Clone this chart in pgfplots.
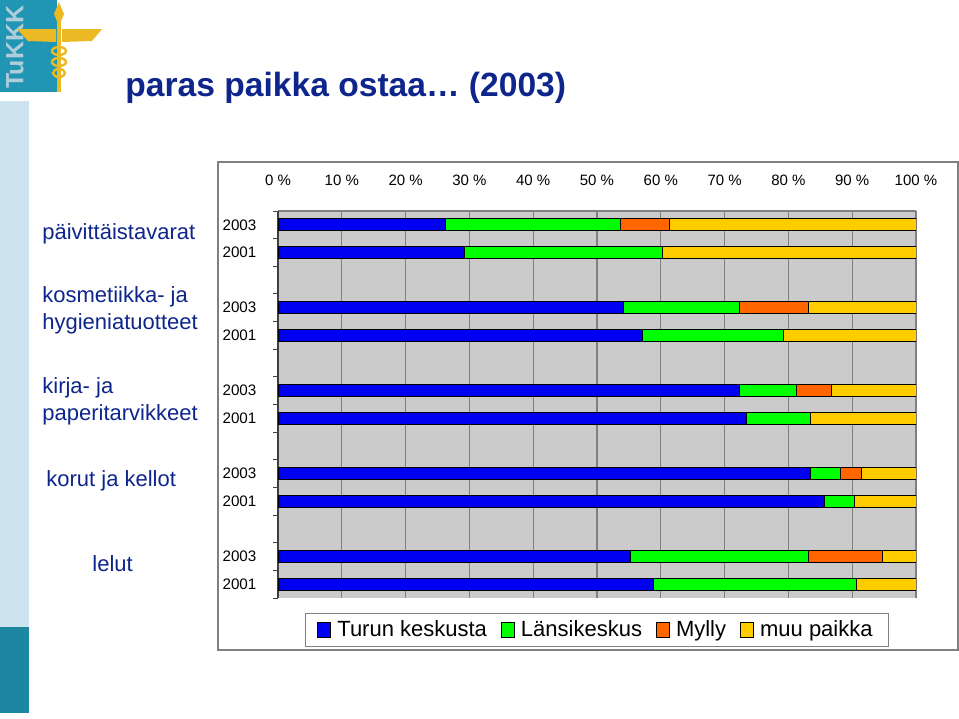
\documentclass[border=0pt]{standalone}
\usepackage{pgfplots}
\pgfplotsset{compat=1.18}
\usepackage{fontspec}
\setmainfont{Liberation Sans}

\definecolor{navy}{RGB}{14,38,140}
\definecolor{tukteal}{RGB}{32,150,180}
\definecolor{tuklight}{RGB}{205,227,238}
\definecolor{tukletter}{RGB}{175,205,218}
\definecolor{gold}{RGB}{235,185,35}
\definecolor{plotgray}{RGB}{203,203,203}
\definecolor{gridgray}{RGB}{128,128,128}
\definecolor{cblue}{RGB}{0,0,240}
\definecolor{cgreen}{RGB}{0,255,0}
\definecolor{corange}{RGB}{255,102,0}
\definecolor{cyellow}{RGB}{255,204,0}

\begin{document}
\begin{tikzpicture}
% page and decorations, in pixels of the reference (1px = 0.5pt)
\begin{scope}[x=0.5pt,y=-0.5pt]
  \useasboundingbox (0,0) rectangle (959,718);
  \fill[white] (0,0) rectangle (959,718);
  % logo
  \fill[tukteal] (0,0) rectangle (57,92);
  \node[rotate=90, text=tukletter, inner sep=0,
        font=\bfseries\fontsize{12.5}{12.5}\selectfont] at (15,47) {TuKKK};
  \fill[gold] (57,8) rectangle (61,92);
  \fill[gold] (59,2) -- (64,14) -- (59,26) -- (54,14) -- cycle;
  \fill[gold] (17,29) -- (56,29) -- (56,42) -- (28,41) -- cycle;
  \fill[gold] (62,29) -- (102,29) -- (92,41) -- (62,42) -- cycle;
  \draw[gold, line width=1.2pt] (59,51) ellipse (7 and 4);
  \draw[gold, line width=1.2pt] (59,62) ellipse (7 and 4);
  \draw[gold, line width=1.2pt] (59,73) ellipse (6 and 4);
  % left strip
  \fill[tuklight] (0,101) rectangle (29,627);
  \fill[tukteal!90!black] (0,627) rectangle (29,713);
  % title
  \node[anchor=base west, inner sep=0, text=navy,
        font=\bfseries\fontsize{16.8}{18}\selectfont] at (125,96)
        {paras paikka ostaa… (2003)};
  % chart frame
  \draw[gray, line width=0.6pt] (218,162) rectangle (958,650);
  % category labels
  \begin{scope}[every node/.style={anchor=base west, inner sep=0, text=navy,
      font=\fontsize{11}{13}\selectfont}]
    \node at (42,239) {päivittäistavarat};
    \node at (42,302) {kosmetiikka- ja};
    \node at (42,329) {hygieniatuotteet};
    \node at (42,393) {kirja- ja};
    \node at (42,420) {paperitarvikkeet};
    \node at (46,486) {korut ja kellot};
    \node at (92,571) {lelut};
  \end{scope}
\end{scope}

\begin{axis}[
    at={(139pt,-299pt)}, anchor=south west,
    scale only axis, width=319pt, height=193.5pt,
    xbar stacked, bar width=0.43,
    y dir=reverse,
    xmin=0, xmax=100, ymin=-0.5, ymax=13.5,
    enlargelimits=false,
    axis x line*=top, axis y line*=left,
    x axis line style={gridgray, line width=0.8pt},
    y axis line style={black!75, line width=0.6pt},
    axis background/.style={fill=plotgray},
    xmajorgrids, grid style={draw=gridgray, line width=0.6pt},
    xtick={0,10,...,100},
    /pgf/number format/assume math mode=true,
    xticklabel={\pgfmathprintnumber{\tick} \%},
    xticklabel style={font=\fontsize{7.5}{9}\selectfont, yshift=5pt},
    xtick style={draw=none},
    ytick={0,1,3,4,6,7,9,10,12,13},
    yticklabels={2003,2001,2003,2001,2003,2001,2003,2001,2003,2001},
    yticklabel style={font=\fontsize{7.6}{9}\selectfont, xshift=-3pt},
    ytick style={draw=none},
    minor ytick={-0.5,0.5,...,13.5},
    minor y tick style={draw=black!75, line width=0.5pt},
    minor tick length=2.5pt, tick align=outside,
    every axis plot/.append style={draw=black, line width=0.5pt},
    legend style={at={(0.5,-0.083)}, anchor=center, legend columns=4,
      draw=gridgray, fill=white, font=\fontsize{11}{13}\selectfont,
      inner xsep=6pt, inner ysep=1.5pt,
      /tikz/every even column/.append style={column sep=5pt},
      /tikz/every odd column/.append style={column sep=1pt}},
    legend image code/.code={\draw[#1, draw=black, line width=0.5pt]
      (0pt,-3.8pt) rectangle (6.5pt,3.8pt);},
  ]
  \addplot[fill=cblue] coordinates {
    (26.3,0) (29.2,1) (54.2,3) (57.1,4) (72.3,6) (73.4,7)
    (83.5,9) (85.6,10) (55.2,12) (58.8,13)};
  \addlegendentry{Turun keskusta}
  \addplot[fill=cgreen] coordinates {
    (27.4,0) (31.0,1) (18.2,3) (22.1,4) (8.9,6) (10.1,7)
    (4.7,9) (4.7,10) (28.0,12) (31.8,13)};
  \addlegendentry{Länsikeskus}
  \addplot[fill=corange] coordinates {
    (7.7,0) (0,1) (10.8,3) (0,4) (5.5,6) (0,7)
    (3.3,9) (0,10) (11.5,12) (0,13)};
  \addlegendentry{Mylly}
  \addplot[fill=cyellow] coordinates {
    (38.6,0) (39.8,1) (16.8,3) (20.8,4) (13.3,6) (16.5,7)
    (8.5,9) (9.7,10) (5.3,12) (9.4,13)};
  \addlegendentry{muu paikka}
\end{axis}
\end{tikzpicture}
\end{document}
